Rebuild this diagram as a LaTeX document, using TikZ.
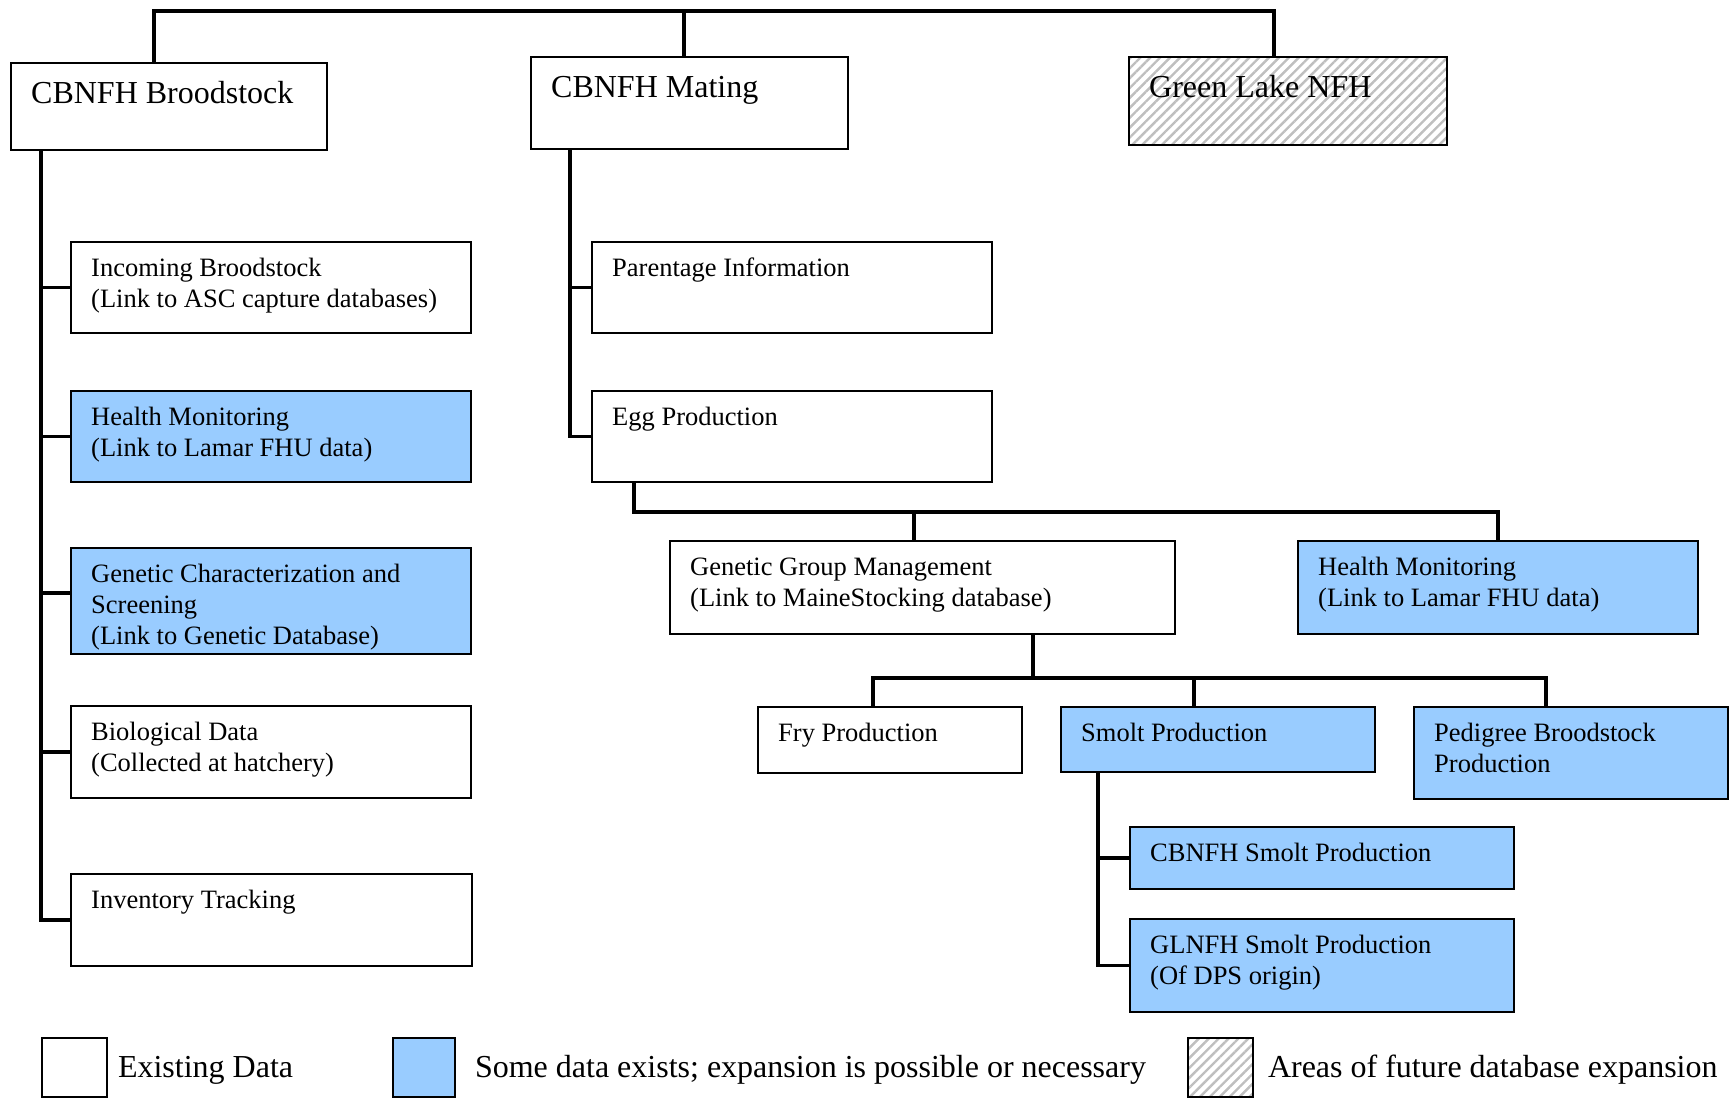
\documentclass[tikz,border=0pt]{standalone}
\usepackage{fontspec}
\setmainfont{Liberation Serif}
\usetikzlibrary{calc,patterns.meta}
\definecolor{someblue}{HTML}{99CCFF}
\newcommand{\boxfont}{\fontsize{26.5}{31}\selectfont}
\newcommand{\headfont}{\fontsize{32}{37}\selectfont}

\begin{document}
\begin{tikzpicture}[x=1pt, y=-1pt,
        box/.style={draw, line width=1.8pt, anchor=north west, inner sep=0pt},
        partial/.style={box, fill=someblue},
        future/.style={box, pattern={Lines[angle=45, distance=7pt, line width=2.4pt]}, pattern color=black!25},
        txt/.style={anchor=north west, inner sep=0pt, align=left, font=\boxfont},
        head/.style={anchor=north west, inner sep=0pt, align=left, font=\headfont},
        key/.style={anchor=base west, inner sep=0pt, font=\headfont},
        link/.style={line width=3.5pt}]
        \useasboundingbox (0,0) rectangle (1733,1099);
        % Top row
        \node (bs) at (10,62) [box, minimum width=316, minimum height=87] {};
        \node (mt) at (530,56) [box, minimum width=317, minimum height=92] {};
        \node (gl) at (1128,56) [future, minimum width=318, minimum height=88] {};
        \node (bs-t) at ([shift={(21,15)}]bs.north west) [head] {\strut CBNFH Broodstock};
        \node (mt-t) at ([shift={(21,15)}]mt.north west) [head] {\strut CBNFH Mating};
        \node (gl-t) at ([shift={(21,15)}]gl.north west) [head] {\strut Green Lake NFH};
        % Broodstock column
        \node (ib) at (70,241) [box, minimum width=400, minimum height=91] {};
        \node (hm1) at (70,390) [partial, minimum width=400, minimum height=91] {};
        \node (gc) at (70,547) [partial, minimum width=400, minimum height=106] {};
        \node (bio) at (70,705) [box, minimum width=400, minimum height=92] {};
        \node (inv) at (70,873) [box, minimum width=401, minimum height=92] {};
        \node (ib-t) at ([shift={(21,13.8)}]ib.north west) [txt] {\strut Incoming Broodstock\\(Link to ASC capture databases)};
        \node (hm1-t) at ([shift={(21,13.8)}]hm1.north west) [txt] {\strut Health Monitoring\\(Link to Lamar FHU data)};
        \node (gc-t) at ([shift={(21,13.8)}]gc.north west) [txt] {\strut Genetic Characterization and\\Screening\\(Link to Genetic Database)};
        \node (bio-t) at ([shift={(21,13.8)}]bio.north west) [txt] {\strut Biological Data\\(Collected at hatchery)};
        \node (inv-t) at ([shift={(21,13.8)}]inv.north west) [txt] {\strut Inventory Tracking};
        % Mating column
        \node (pi) at (591,241) [box, minimum width=400, minimum height=91] {};
        \node (egg) at (591,390) [box, minimum width=400, minimum height=91] {};
        \node (pi-t) at ([shift={(21,13.8)}]pi.north west) [txt] {\strut Parentage Information};
        \node (egg-t) at ([shift={(21,13.8)}]egg.north west) [txt] {\strut Egg Production};
        \node (gg) at (669,540) [box, minimum width=505, minimum height=93] {};
        \node (hm2) at (1297,540) [partial, minimum width=400, minimum height=93] {};
        \node (gg-t) at ([shift={(21,13.8)}]gg.north west) [txt] {\strut Genetic Group Management\\(Link to MaineStocking database)};
        \node (hm2-t) at ([shift={(21,13.8)}]hm2.north west) [txt] {\strut Health Monitoring\\(Link to Lamar FHU data)};
        \node (fry) at (757,706) [box, minimum width=264, minimum height=66] {};
        \node (sm) at (1060,706) [partial, minimum width=314, minimum height=65] {};
        \node (ped) at (1413,706) [partial, minimum width=314, minimum height=92] {};
        \node (fry-t) at ([shift={(21,13.8)}]fry.north west) [txt] {\strut Fry Production};
        \node (sm-t) at ([shift={(21,13.8)}]sm.north west) [txt] {\strut Smolt Production};
        \node (ped-t) at ([shift={(21,13.8)}]ped.north west) [txt] {\strut Pedigree Broodstock\\Production};
        \node (cbs) at (1129,826) [partial, minimum width=384, minimum height=62] {};
        \node (gls) at (1129,918) [partial, minimum width=384, minimum height=93] {};
        \node (cbs-t) at ([shift={(21,13.8)}]cbs.north west) [txt] {\strut CBNFH Smolt Production};
        \node (gls-t) at ([shift={(21,13.8)}]gls.north west) [txt] {\strut GLNFH Smolt Production\\(Of DPS origin)};
        % Links
        \draw[link] ($(bs.north west)+(144,0)$) -- ++(0,-51) -| ($(gl.north west)+(146,0)$);
        \draw[link] ($(mt.north west)+(154,0)$) -- ++(0,-45);
        \coordinate (bsx) at ($(bs.south west)+(31,0)$);
        \coordinate (gcb) at ([yshift=8pt]gc.west);
        \draw[link] (bsx) |- (inv.west);
        \draw[link] (ib.west) -- (ib.west -| bsx);
        \draw[link] (hm1.west) -- (hm1.west -| bsx);
        \draw[link] (gcb) -- (gcb -| bsx);
        \draw[link] (bio.west) -- (bio.west -| bsx);
        \coordinate (mtx) at ($(mt.south west)+(40,0)$);
        \draw[link] (mtx) |- (egg.west);
        \draw[link] (pi.west) -- (pi.west -| mtx);
        \draw[link] ($(egg.south west)+(43,0)$) -- ++(0,29) -| (hm2.north);
        \draw[link] ($(gg.north west)+(245,0)$) -- ++(0,-30);
        \draw[link] ($(gg.south west)+(364,0)$) -- ++(0,45);
        \draw[link] ($(fry.north west)+(116,0)$) -- ++(0,-28) -| ($(ped.north west)+(133,0)$);
        \draw[link] ($(sm.north west)+(134,0)$) -- ++(0,-28);
        \coordinate (smx) at ($(sm.south west)+(38,0)$);
        \draw[link] (smx) |- (gls.west);
        \draw[link] (cbs.west) -- (cbs.west -| smx);
        % Legend
        \node (lg1) at (41,1037) [box, minimum width=65, minimum height=59] {};
        \node (lg2) at (392,1037) [partial, minimum width=62, minimum height=59] {};
        \node (lg3) at (1187,1037) [future, minimum width=65, minimum height=59] {};
        \node (lg1-t) at ($(lg1.east)+(10,10.5)$) [key] {Existing Data};
        \node (lg2-t) at ($(lg2.east)+(19,10.5)$) [key] {Some data exists; expansion is possible or necessary};
        \node (lg3-t) at ($(lg3.east)+(14,10.5)$) [key] {Areas of future database expansion};
    \end{tikzpicture}
\end{document}
